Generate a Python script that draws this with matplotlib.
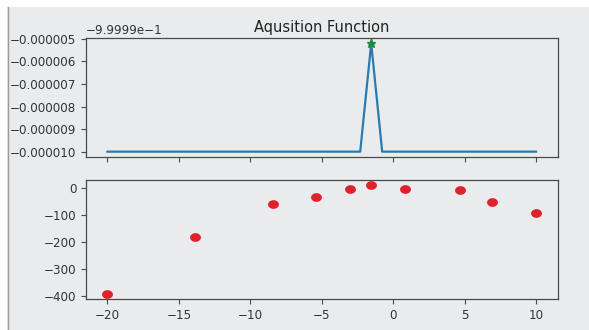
import matplotlib
matplotlib.use('Agg')
import matplotlib.pyplot as plt
from matplotlib.patches import Rectangle
from matplotlib.path import Path
from matplotlib.lines import Line2D
from matplotlib import ticker
import numpy as np

# acquisition curve (40 evenly spaced samples on [-20, 10])
acq_x = np.linspace(-20, 10, 40)
acq_y = [-1.0] * 24 + [-0.9999952] + [-1.0] * 15
best_x = -1.54
best_y = -0.9999952

# sampled objective values
obs_x = [-20.0, -13.85, -8.44, -5.41, -3.01, -1.54, 0.82, 4.69, 6.95, 10.02]
obs_y = [-391, -183, -62, -36, -6, 8.5, -7, -10, -52, -94]

acq_ticks = [-0.999995, -0.999996, -0.999997, -0.999998, -0.999999, -1.0]
acq_offset = -0.99999
x_ticks = [-20, -15, -10, -5, 0, 5, 10]
obs_ticks = [0, -100, -200, -300, -400]

bg = '#eaebed'
spine_col = '#4a4a4a'
text_col = '#333333'

fig = plt.figure(figsize=(5.89, 3.3), dpi=100)
fig.patch.set_facecolor(bg)

ax1 = fig.add_axes([0.146, 0.524, 0.801, 0.361])
ax2 = fig.add_axes([0.146, 0.094, 0.801, 0.361], sharex=ax1)

# slightly wide ellipse marker (the reference looks stretched sideways)
t = np.linspace(0, 2 * np.pi, 60)
ell = Path(np.column_stack([1.3 * np.cos(t), np.sin(t)]), closed=True)

ax1.plot(acq_x, acq_y, color='#2a7ab0', lw=1.6)
ax1.plot([best_x], [best_y], marker='*', color='#1e8a3c', ms=6.5, ls='none')
ax1.set_title('Aqusition Function', fontsize=10.5, color='#222222', pad=4)

ax2.plot(obs_x, obs_y, ls='none', marker=ell, ms=6.8, color='#e0202a')

for ax in (ax1, ax2):
    ax.set_facecolor(bg)
    for s in ax.spines.values():
        s.set_color(spine_col)
        s.set_linewidth(0.9)
    ax.tick_params(labelsize=8.6, colors=spine_col, labelcolor=text_col, length=3.5, width=0.8)

ax1.set_xticks(x_ticks)
ax1.tick_params(labelbottom=False)
ax1.set_yticks(acq_ticks)
fmt = ticker.FuncFormatter(lambda v, p: ('%.6f' % (v - acq_offset)).replace('-', '\u2212'))
fmt.set_offset_string('\u22129.9999e\u22121')
ax1.yaxis.set_major_formatter(fmt)
ax1.yaxis.get_offset_text().set_fontsize(8.6)
ax1.yaxis.get_offset_text().set_color(text_col)

ax2.set_yticks(obs_ticks)

# screenshot edges: white strip on top/left and a thin grey frame line
fig.patches.append(Rectangle((0, 0), 7 / 589, 1, transform=fig.transFigure,
                             facecolor='white', edgecolor='none', zorder=10))
fig.patches.append(Rectangle((0, 1 - 7 / 330), 1, 7 / 330, transform=fig.transFigure,
                             facecolor='white', edgecolor='none', zorder=10))
fig.lines.append(Line2D([7.5 / 589, 7.5 / 589], [0, 1 - 7 / 330], transform=fig.transFigure,
                        color='#9a9a9a', lw=1.0, zorder=11))

fig.savefig('out.png', dpi=100, facecolor=fig.get_facecolor())
